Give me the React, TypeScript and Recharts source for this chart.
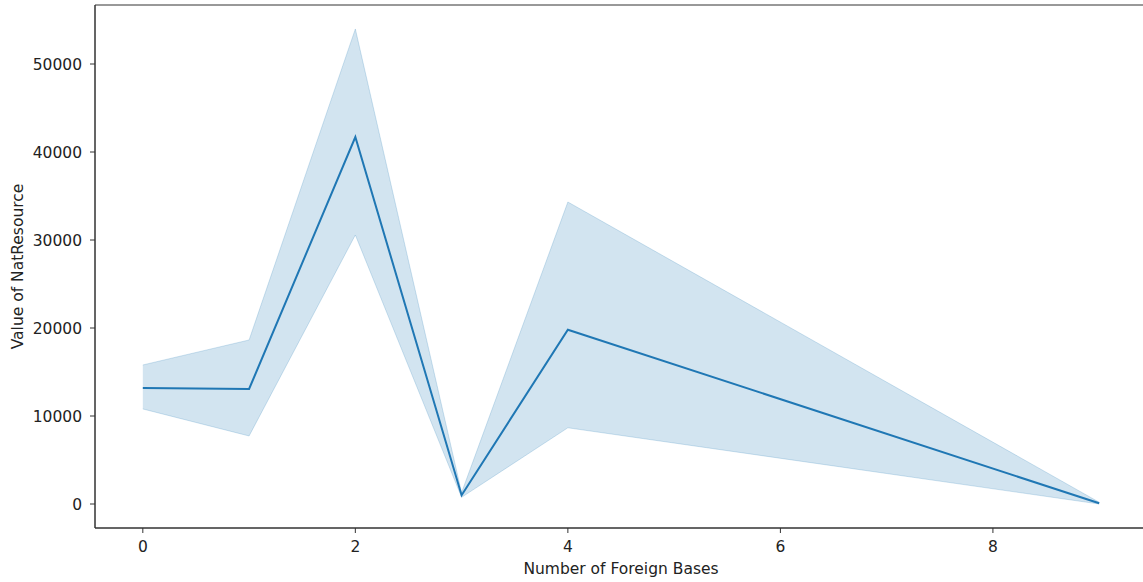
import React from 'react';
import { ComposedChart, Area, Line, XAxis, YAxis, ReferenceArea, Label } from 'recharts';

const bases = [0, 1, 2, 3, 4, 9];
const meanValues = [13180, 13070, 41700, 1000, 19800, 80];
const lowerValues = [10800, 7730, 30570, 760, 8660, 0];
const upperValues = [15800, 18640, 53980, 1300, 34320, 200];
const xTicks = [0, 2, 4, 6, 8];
const yTicks = [0, 10000, 20000, 30000, 40000, 50000];

const data = bases.map((x, i) => ({
  x,
  mean: meanValues[i],
  band: [lowerValues[i], upperValues[i]],
}));

const X_DOMAIN: [number, number] = [-0.45, 9.45];
const Y_DOMAIN: [number, number] = [-2727, 56705];
const FONT = 'DejaVu Sans, sans-serif';
const FS = 15.5;
const tickStyle = { fontFamily: FONT, fontSize: FS, fill: '#222' };

export default function App() {
  return (
    <div
      style={{
        position: 'absolute',
        left: 0,
        top: 0,
        width: 1143,
        height: 582,
        overflow: 'hidden',
        background: '#fff',
      }}
    >
      <ComposedChart
        width={1152}
        height={582}
        data={data}
        margin={{ top: 5, right: 5, bottom: 0, left: 10 }}
      >
        <XAxis
          dataKey="x"
          type="number"
          domain={X_DOMAIN}
          ticks={xTicks}
          allowDataOverflow
          height={54}
          tickSize={5}
          tickMargin={8}
          stroke="#333"
          tick={tickStyle}
          tickLine={{ stroke: '#333' }}
          axisLine={{ stroke: '#333' }}
        >
          <Label
            value="Number of Foreign Bases"
            position="insideBottom"
            offset={8}
            style={{ fontFamily: FONT, fontSize: FS, fill: '#222' }}
          />
        </XAxis>
        <YAxis
          type="number"
          domain={Y_DOMAIN}
          ticks={yTicks}
          allowDataOverflow
          width={85}
          tickSize={5}
          tickMargin={8}
          stroke="#333"
          tick={tickStyle}
          tickLine={{ stroke: '#333' }}
          axisLine={{ stroke: '#333' }}
        >
          <Label
            value="Value of NatResource"
            angle={-90}
            position="insideLeft"
            offset={7.5}
            style={{ fontFamily: FONT, fontSize: FS, fill: '#222', textAnchor: 'middle' }}
          />
        </YAxis>
        <Area
          type="linear"
          dataKey="band"
          fill="#1f77b4"
          fillOpacity={0.2}
          stroke="#1f77b4"
          strokeOpacity={0.2}
          strokeWidth={1}
          isAnimationActive={false}
          activeDot={false}
        />
        <Line
          type="linear"
          dataKey="mean"
          stroke="#1f77b4"
          strokeWidth={2}
          dot={false}
          activeDot={false}
          isAnimationActive={false}
        />
        <ReferenceArea
          x1={X_DOMAIN[0]}
          x2={X_DOMAIN[1]}
          y1={Y_DOMAIN[0]}
          y2={Y_DOMAIN[1]}
          fill="none"
          stroke="#333"
          strokeWidth={1}
          ifOverflow="visible"
        />
      </ComposedChart>
    </div>
  );
}
